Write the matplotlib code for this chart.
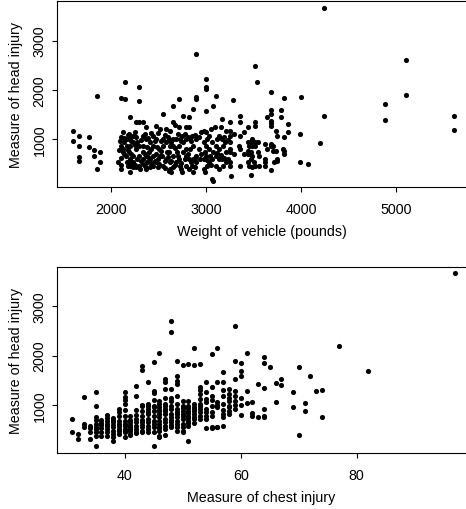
import matplotlib
matplotlib.use("Agg")
import matplotlib.pyplot as plt

# crash test readings: vehicle weight (lb) vs head injury measure
weight = [
    1600, 1600, 1660, 1660, 1665, 1665, 1765, 1765, 1825, 1825, 1850, 1850, 1885, 1885,
    2080, 2075, 2101, 2105, 2098, 2110, 2102, 2147, 2145, 2129, 2133, 2125, 2130,
    2164, 2168, 2160, 2165, 2199, 2195, 2203, 2198, 2190, 2205, 2200, 2196, 2233, 2230, 2236, 2228, 2235,
    2268, 2265, 2270, 2262, 2272, 2266, 2296, 2300, 2292, 2298, 2295, 2290, 2302, 2338, 2335, 2340, 2342, 2333, 2337,
    2373, 2370, 2376, 2368, 2380, 2372, 2408, 2405, 2410, 2412, 2442, 2440, 2445, 2438,
    2477, 2475, 2480, 2472, 2478, 2512, 2508, 2515, 2510, 2547, 2545, 2550, 2542, 2548,
    2582, 2580, 2585, 2578, 2617, 2615, 2620, 2612, 2618, 2622, 2614, 2652, 2650, 2655, 2648, 2653, 2657,
    2686, 2690, 2683, 2721, 2718, 2725, 2720, 2716, 2723, 2756, 2752, 2758, 2760, 2750,
    2791, 2788, 2795, 2793, 2786, 2826, 2822, 2828, 2830, 2824, 2820, 2861, 2858, 2864, 2860, 2856, 2866,
    2895, 2898, 2892, 2900, 2896, 2890, 2930, 2928, 2934, 2983, 2980, 2986, 2978, 2984,
    3000, 3002, 2998, 3005, 3003, 2997, 3001, 3006, 2995, 3035, 3032, 3038, 3030, 3070, 3068, 3072, 3066, 3060, 3075,
    3104, 3100, 3108, 3102, 3106, 3139, 3135, 3142, 3138, 3174, 3170, 3178, 3172, 3176, 3209, 3205, 3212, 3208,
    3252, 3255, 3250, 3258, 3254, 3248, 3256, 3251, 3260, 3280, 3358, 3355, 3360, 3352, 3362, 3357,
    3445, 3442, 3448, 3440, 3446, 3444, 3450, 3470, 3480, 3478, 3482, 3476, 3484, 3479, 3481,
    3516, 3512, 3518, 3520, 3514, 3510, 3517, 3540, 3551, 3548, 3553, 3555,
    3621, 3618, 3624, 3620, 3638, 3640, 3684, 3684, 3686, 3682, 3684, 3680, 3688, 3684, 3684, 3709, 3705, 3712,
    3733, 3744, 3740, 3746, 3748, 3786, 3786, 3814, 3818, 3821, 3821, 3824, 3860, 3860,
    3990, 3990, 4000, 4077, 4200, 4246, 4246, 4885, 4885, 5102, 5102, 5615, 5615,
    2110, 2110, 2140, 2140, 2180, 2180, 2180, 2215, 2215, 2215, 2250, 2250, 2250,
    2320, 2320, 2355, 2355, 2355, 2390, 2390, 2425, 2425, 2425, 2460, 2460,
    2495, 2495, 2495, 2530, 2530, 2565, 2565, 2565, 2600, 2600, 2635, 2635, 2635,
    2670, 2670, 2670, 2705, 2705, 2740, 2740, 2740, 2775, 2775, 2810, 2810, 2845, 2845,
    2880, 2880, 2880, 2950, 2950, 3015, 3015, 3050, 3050, 3120, 3120, 3155, 3155,
    3190, 3190, 3230, 3230, 3300, 3300, 3400, 3400,
]
head_by_weight = [
    1170, 950, 1070, 850, 630, 545, 1030, 830, 775, 650, 380, 1870, 740, 525,
    785, 540, 1825, 1034, 966, 865, 398, 1807, 2150, 1135, 932, 797, 730,
    1000, 865, 662, 527, 1439, 1101, 1000, 865, 730, 594, 459, 338, 1068, 932, 662, 527, 425,
    1338, 1034, 932, 797, 594, 425, 2048, 1777, 1338, 865, 662, 459, 392, 1338, 1068, 865, 730, 594, 493,
    1237, 1000, 831, 662, 527, 392, 932, 730, 594, 425, 1068, 865, 662, 459,
    1270, 1000, 831, 696, 527, 1203, 797, 662, 493, 1507, 1000, 865, 662, 459,
    1203, 932, 730, 594, 1169, 1000, 865, 730, 527, 392, 358, 1676, 1338, 1000, 865, 662, 425,
    1000, 730, 527, 1811, 1237, 1000, 865, 594, 459, 1473, 1068, 932, 730, 324,
    1237, 1000, 797, 662, 459, 1439, 1237, 1000, 797, 594, 392, 1608, 1068, 865, 594, 459, 324,
    2724, 1845, 1811, 1000, 662, 527, 1034, 797, 594, 1169, 932, 730, 594, 392,
    2217, 2048, 2014, 1575, 1135, 865, 662, 459, 324, 1068, 797, 662, 527, 1676, 932, 730, 594, 190, 155,
    1879, 1237, 865, 662, 459, 1068, 797, 594, 392, 1406, 1000, 865, 594, 459, 1169, 932, 730, 527,
    1338, 1169, 1068, 932, 797, 730, 527, 459, 256, 1798, 1473, 1338, 1068, 865, 797, 459,
    1237, 932, 865, 763, 696, 527, 459, 277, 1000, 932, 865, 730, 662, 594, 425,
    2487, 1338, 1270, 932, 865, 527, 459, 2149, 932, 730, 662, 459,
    899, 594, 527, 459, 1440, 797, 1588, 1507, 1372, 1324, 1270, 899, 865, 378, 1960, 865, 763, 527,
    1169, 1068, 763, 594, 560, 1595, 1440, 797, 696, 1825, 1034, 763, 1311, 1135,
    1108, 540, 1858, 486, 912, 3670, 1460, 1717, 1392, 2609, 1899, 1473, 1176,
    620, 480, 1010, 690, 1080, 780, 460, 950, 690, 520, 1150, 880, 470,
    980, 560, 1110, 700, 460, 1020, 640, 1130, 800, 520, 950, 560,
    1120, 600, 430, 960, 750, 1080, 560, 400, 1050, 640, 940, 560, 330,
    1290, 810, 470, 1100, 650, 960, 520, 380, 1100, 600, 1040, 700, 960, 540,
    1080, 620, 440, 1150, 700, 1000, 580, 1200, 480, 1000, 720, 1250, 680,
    1050, 620, 980, 600, 1100, 700, 1150, 700,
]

# chest injury measure vs head injury measure
chest = [
    31, 31, 32, 32, 33, 33, 34, 34, 34,
    35, 35, 35, 35, 35, 35, 35, 35,
    36, 36, 36,
    37, 37, 37, 37, 37, 37,
    38, 38, 38, 38, 38, 38,
    39, 39, 39, 39, 39, 39,
    40, 40, 40, 40, 40, 40, 40, 40, 40, 40,
    41, 41, 41, 41, 41,
    42, 42, 42, 42, 42, 42, 42,
    43, 43, 43, 43, 43, 43, 43, 43,
    44, 44, 44, 44, 44, 44, 44,
    45, 45, 45, 45, 45, 45, 45, 45, 45, 45,
    46, 46, 46, 46, 46, 46, 46, 46, 46, 46, 46, 46,
    47, 47, 47, 47, 47, 47, 47, 47, 47, 47, 47,
    48, 48, 48, 48, 48, 48, 48, 48, 48,
    49, 49, 49, 49, 49, 49, 49, 49, 49, 49, 49,
    50, 50, 50, 50, 50, 50, 50, 50,
    51, 51, 51, 51, 51, 51, 51, 51,
    52, 52, 52, 52, 52, 52,
    53, 53, 53, 53, 53, 53, 53,
    54, 54, 54, 54, 54,
    55, 55, 55, 55, 55, 55,
    56, 56, 56, 56,
    57, 57, 57, 57, 57, 57, 57,
    58, 58, 58, 58, 58, 58,
    59, 59, 59, 59, 59, 59, 59,
    60, 60, 60, 60,
    61, 61, 61, 62, 62, 62, 63, 63,
    64, 64, 64, 64, 64, 64, 65, 66, 66, 67, 67,
    69, 69, 70, 70, 71, 71, 72, 73, 74, 74, 77, 82, 97,
    33, 34, 35, 35, 36, 36, 36, 37, 37, 38, 38, 38, 39, 39, 39, 40, 40, 40,
    41, 41, 41, 41, 42, 42, 42, 43, 43, 43, 43, 44, 44, 44, 44,
    45, 45, 45, 46, 46, 46, 47, 47, 47, 48, 48, 48, 48, 49, 49, 49,
    50, 50, 50, 50, 51, 51, 51, 51, 52, 52, 52, 52, 53, 53, 53, 53,
    54, 54, 54, 54, 55, 55, 55, 56, 56, 56, 57, 57, 58, 58, 59, 60, 60,
]
head_by_chest = [
    716, 446, 412, 310, 1169, 547, 581, 527, 310,
    1257, 973, 750, 615, 513, 446, 378, 175,
    628, 527, 378,
    797, 682, 581, 513, 446, 378,
    730, 648, 547, 480, 412, 260,
    919, 770, 682, 581, 513, 412,
    1257, 1169, 1108, 1020, 770, 682, 581, 513, 446, 344,
    770, 648, 547, 480, 412,
    1380, 1189, 797, 716, 581, 513, 432,
    1798, 1717, 986, 885, 770, 648, 547, 480,
    1460, 1020, 919, 817, 716, 581, 513,
    1865, 1290, 1243, 986, 885, 784, 682, 547, 446, 162,
    2048, 1088, 1020, 953, 885, 817, 750, 682, 615, 527, 378, 344,
    1527, 1460, 1324, 1135, 1020, 919, 817, 716, 581, 513, 392,
    2710, 2487, 1324, 1088, 919, 817, 750, 648, 547,
    1899, 1595, 1493, 1426, 1189, 1020, 919, 851, 750, 615, 480,
    1811, 1088, 986, 885, 817, 716, 480, 446,
    1831, 1088, 986, 885, 784, 682, 581, 277,
    2149, 1811, 1020, 919, 817, 716,
    1831, 1358, 1223, 1122, 1020, 919, 716,
    1473, 1122, 919, 716, 527,
    2034, 1358, 1189, 986, 770, 527,
    2149, 1460, 1054, 547,
    1662, 1460, 1189, 1020, 817, 750, 581,
    1324, 1223, 1088, 986, 885, 817,
    2609, 1886, 1527, 1290, 1189, 1088, 919,
    1845, 1696, 1582, 804,
    2048, 1277, 1034, 1054, 831, 770, 1433, 750,
    1980, 1845, 1338, 913, 777, 750, 1764, 1440, 1067, 1533, 1399,
    1257, 966, 1764, 398, 1034, 885, 1594, 1277, 1310, 763, 2191, 1696, 3670,
    620, 450, 560, 700, 700, 450, 600, 620, 740, 600, 350, 700, 620, 470, 860, 620, 900, 480,
    700, 600, 520, 380, 650, 450, 900, 700, 600, 450, 1000, 980, 650, 450, 860,
    950, 620, 1100, 900, 560, 470, 980, 650, 870, 980, 700, 600, 1150, 820, 680, 560,
    930, 780, 620, 560, 930, 840, 730, 630, 960, 870, 760, 640, 1300, 980, 860, 780,
    1260, 1050, 850, 780, 1100, 850, 550, 1000, 950, 560, 1300, 900, 1150, 950, 1000, 1000, 1150,
]

weight_ticks = [2000, 3000, 4000, 5000]
chest_ticks = [40, 60, 80]
head_ticks = [1000, 2000, 3000]

plt.rcParams['font.family'] = ['Liberation Sans', 'DejaVu Sans']
plt.rcParams['font.size'] = 10.3

fig = plt.figure(figsize=(4.66, 5.10), dpi=100)


def panel(rect, x, y, xlim, xticks, xlabel):
    ax = fig.add_axes(rect)
    ax.plot(x, y, 'o', ms=3.7, color='black', mec='none')
    ax.set_xlim(*xlim)
    ax.set_ylim(24, 3805)
    ax.set_xticks(xticks)
    ax.set_yticks(head_ticks)
    ax.set_yticklabels([str(t) for t in head_ticks], rotation=90, va='center')
    ax.spines['right'].set_visible(False)
    for s in ax.spines.values():
        s.set_linewidth(0.8)
    ax.tick_params(direction='out', length=3.6, width=0.8)
    ax.tick_params(axis='x', pad=7.5)
    ax.tick_params(axis='y', pad=4)
    ax.set_xlabel(xlabel, labelpad=5.5)
    ax.set_ylabel('Measure of head injury', labelpad=6.5)
    return ax


panel([0.1223, 0.6314, 0.8777, 0.3647], weight, head_by_weight,
      (1432, 5737), weight_ticks, 'Weight of vehicle (pounds)')
panel([0.1223, 0.1098, 0.8777, 0.3653], chest, head_by_chest,
      (28.33, 98.84), chest_ticks, 'Measure of chest injury')

fig.savefig('out.png', dpi=100)
